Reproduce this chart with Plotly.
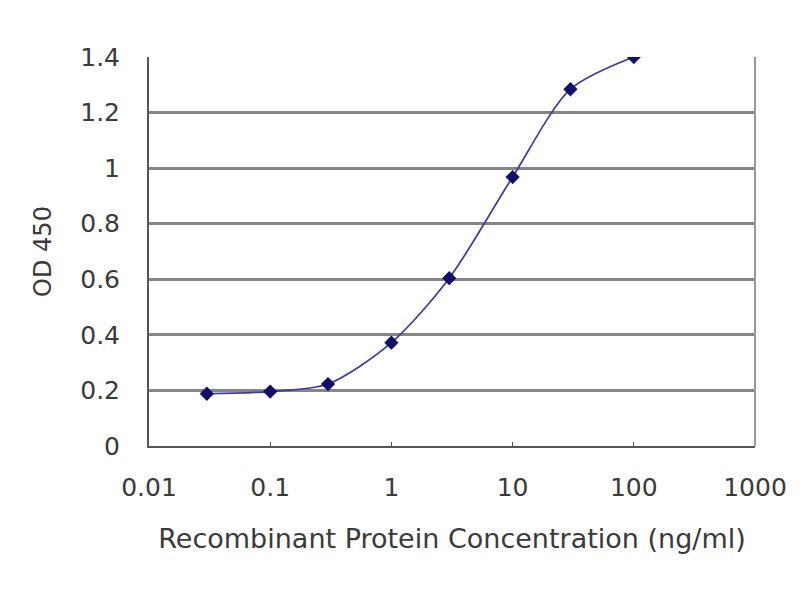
import plotly.graph_objects as go

conc = [0.03, 0.1, 0.3, 1, 3, 10, 30, 100]
od450 = [0.188, 0.196, 0.223, 0.372, 0.604, 0.968, 1.284, 1.40]

x_ticks = [0.01, 0.1, 1, 10, 100, 1000]
x_labels = ["0.01", "0.1", "1", "10", "100", "1000"]
y_ticks = [0, 0.2, 0.4, 0.6, 0.8, 1, 1.2, 1.4]
y_labels = ["0", "0.2", "0.4", "0.6", "0.8", "1", "1.2", "1.4"]

txt = "#3a3a3a"
font_name = "DejaVu Sans, Liberation Sans, Arial, sans-serif"

fig = go.Figure()
fig.add_trace(go.Scatter(x=conc, y=od450, mode="lines+markers",
                         line=dict(color="#3c3c9c", width=1.7, shape="spline", smoothing=0.8),
                         marker=dict(symbol="diamond", size=11, color="#10106a"),
                         showlegend=False))

fig.update_xaxes(type="log", range=[-2, 3], tickvals=x_ticks, ticktext=x_labels,
                 showgrid=False, showline=True, linecolor="#555555", linewidth=2,
                 ticks="inside", ticklen=4, tickcolor="#555555",
                 ticklabelstandoff=18,
                 tickfont=dict(size=25, color=txt),
                 title=dict(text="Recombinant Protein Concentration (ng/ml)",
                            font=dict(size=27, color=txt), standoff=28))
fig.update_yaxes(range=[0, 1.4], tickvals=y_ticks, ticktext=y_labels,
                 showgrid=True, gridcolor="#858585", gridwidth=2.5,
                 showline=True, linecolor="#555555", linewidth=2,
                 zeroline=False, ticklabelstandoff=22,
                 tickfont=dict(size=25, color=txt),
                 title=dict(text="OD 450", font=dict(size=24, color=txt), standoff=22))

fig.add_shape(type="line", xref="paper", yref="paper", x0=1, x1=1, y0=0, y1=1,
              line=dict(color="#999999", width=2))

fig.update_layout(width=800, height=600, plot_bgcolor="white", paper_bgcolor="white",
                  font=dict(family=font_name),
                  margin=dict(l=141, r=53, t=49, b=162))

fig.write_html("out.html")
